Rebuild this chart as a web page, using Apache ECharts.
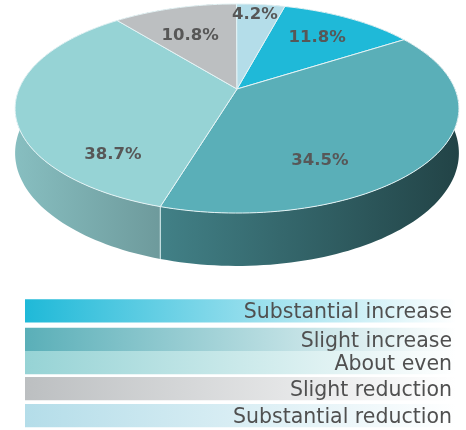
<!DOCTYPE html>
<html>
<head>
<meta charset="utf-8">
<script src="https://cdn.jsdelivr.net/npm/echarts@6/dist/echarts.min.js"></script>
<style>
  html, body { margin: 0; padding: 0; background: #fff; }
  #chart { width: 466px; height: 430px; }
</style>
</head>
<body>
<div id="chart"></div>
<script>
// categories in legend order (pie runs clockwise in this order)
const categories = ['Substantial increase', 'Slight increase', 'About even', 'Slight reduction', 'Substantial reduction']
// percentages as printed on the slices
const pctLabels = ['11.8%', '34.5%', '38.7%', '10.8%', '4.2%']
// slice sizes as drawn in the source (34.5 / 38.7 labels sit on swapped slices there)
const sliceShares = [11.8, 38.7, 34.5, 10.8, 4.2]
const colors = ['#1fb9d8', '#5aafb8', '#96d3d5', '#bcbfc1', '#b4dde9']

// layout of the fake 3D pie
const CX = 237, CY = 89, RX = 218, RY = 100.9, PERSP = 0.1866, DEPTH = 43
const START_DEG = 15
// where each percent label sits: [angle deg, radius fraction]
const labelSpots = [[36, 0.69], [152, 0.714], [221, 0.773], [337.7, 0.629], [6.4, 0.855]]
// legend bars
const LEG_X = 25, LEG_W = 431, LEG_H = 23.3
const legendTops = [299.3, 327.7, 351, 377, 404]

function proj(deg, r, drop) {
  const t = deg * Math.PI / 180
  const u = r * Math.sin(t), v = r * Math.cos(t)
  const s = 1 / (1 + PERSP * v)
  return [CX + RX * u * s, CY - RY * v * s + (drop ? DEPTH * s : 0)]
}

function arc(a0, a1, drop) {
  const pts = []
  const n = Math.max(2, Math.ceil(Math.abs(a1 - a0) / 1.5))
  for (let i = 0; i <= n; i++) pts.push(proj(a0 + (a1 - a0) * i / n, 1, drop))
  return pts
}

function shade(hex, f) {
  const n = parseInt(hex.slice(1), 16)
  const r = Math.round(((n >> 16) & 255) * f)
  const g = Math.round(((n >> 8) & 255) * f)
  const b = Math.round((n & 255) * f)
  return `rgb(${r},${g},${b})`
}

// slice angle ranges
const total = sliceShares.reduce((a, b) => a + b, 0)
const sliceData = []
let acc = START_DEG
sliceShares.forEach((v, i) => {
  const a0 = acc, a1 = acc + v / total * 360
  sliceData.push([a0, a1, i])
  acc = a1
})

const myChart = echarts.init(document.getElementById('chart'), null, { renderer: 'canvas' })

const legendGraphics = []
categories.forEach((name, i) => {
  legendGraphics.push({
    type: 'rect',
    shape: { x: LEG_X, y: legendTops[i], width: LEG_W, height: LEG_H },
    style: {
      fill: new echarts.graphic.LinearGradient(0, 0, 1, 0, [
        { offset: 0, color: colors[i] },
        { offset: 1, color: '#ffffff' }
      ])
    }
  })
  legendGraphics.push({
    type: 'text',
    x: 452,
    y: legendTops[i] + LEG_H / 2 + 2,
    style: {
      text: name,
      fill: '#505050',
      font: '20.5px "DejaVu Sans"',
      textAlign: 'right',
      textVerticalAlign: 'middle'
    }
  })
})

const option = {
  animation: false,
  graphic: legendGraphics,
  series: [
    {
      // side walls
      type: 'custom',
      coordinateSystem: 'none',
      data: sliceData,
      renderItem: (params, api) => {
        const a0 = api.value(0), a1 = api.value(1), i = api.value(2)
        const top = arc(a0, a1, false)
        const bottom = arc(a0, a1, true).reverse()
        const p = proj(a0, 1, false), q = proj(a0, 1, true)
        return {
          type: 'group',
          children: [
            {
              type: 'polygon',
              shape: { points: top.concat(bottom) },
              style: {
                fill: {
                  type: 'linear', x: 16, y: 0, x2: 460, y2: 0, global: true,
                  colorStops: [
                    { offset: 0, color: shade(colors[i], 0.9) },
                    { offset: 1, color: shade(colors[i], 0.38) }
                  ]
                }
              }
            },
            {
              type: 'line',
              shape: { x1: p[0], y1: p[1], x2: q[0], y2: q[1] },
              style: { stroke: '#d8eef0', lineWidth: 1 }
            }
          ]
        }
      }
    },
    {
      // top faces
      type: 'custom',
      coordinateSystem: 'none',
      data: sliceData,
      renderItem: (params, api) => {
        const a0 = api.value(0), a1 = api.value(1), i = api.value(2)
        const pts = [[CX, CY]].concat(arc(a0, a1, false))
        return {
          type: 'polygon',
          shape: { points: pts },
          style: { fill: colors[i], stroke: '#e4f3f5', lineWidth: 1 }
        }
      }
    },
    {
      // percent labels
      type: 'custom',
      coordinateSystem: 'none',
      data: sliceData,
      z: 5,
      renderItem: (params, api) => {
        const i = api.value(2)
        const p = proj(labelSpots[i][0], labelSpots[i][1], false)
        return {
          type: 'text',
          x: p[0],
          y: p[1],
          style: {
            text: pctLabels[i],
            fill: '#575757',
            font: 'bold 16.5px "DejaVu Sans"',
            textAlign: 'center',
            textVerticalAlign: 'middle'
          }
        }
      }
    }
  ]
}

myChart.setOption(option)
</script>
</body>
</html>
